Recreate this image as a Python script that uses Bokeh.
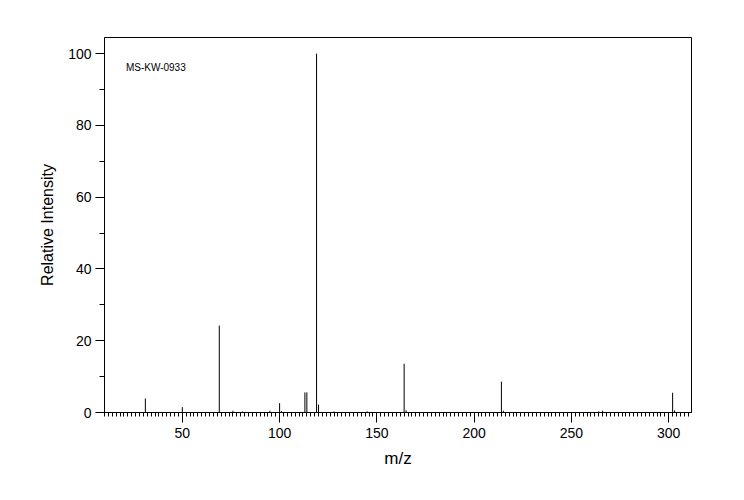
from bokeh.plotting import figure
from bokeh.models import Range1d, SingleIntervalTicker, ColumnDataSource, Label
from bokeh.embed import file_html
from bokeh.resources import INLINE

mz = [31, 50, 69, 76, 81, 95, 100, 101, 113, 114, 119, 120, 128, 145,
      164, 165, 214, 215, 264, 266, 302, 303]
intensity = [3.9, 1.5, 24.2, 0.5, 0.3, 0.5, 2.6, 0.4, 5.6, 5.6, 100.0, 2.2, 0.3, 0.3,
             13.6, 0.6, 8.6, 0.5, 0.3, 0.5, 5.5, 0.6]
base = [0.0] * len(mz)
spectrum_id = "MS-KW-0933"

FONT = "Liberation Sans"

src = ColumnDataSource(dict(mz=mz, base=base, inten=intensity))

p = figure(width=728, height=484, output_backend="svg", toolbar_location=None,
           x_range=Range1d(10, 311.7), y_range=Range1d(0, 104.5),
           min_border_left=104, min_border_right=37, min_border_top=37, min_border_bottom=72,
           background_fill_color="white", border_fill_color="white")

p.segment(x0="mz", y0="base", x1="mz", y1="inten", source=src, line_color="black", line_width=1)

p.xgrid.visible = False
p.ygrid.visible = False
p.outline_line_color = "black"
p.outline_line_width = 1

xa = p.xaxis[0]
xa.ticker = SingleIntervalTicker(interval=50, num_minor_ticks=25)
xa.axis_label = "m/z"
xa.axis_label_text_font = FONT
xa.axis_label_text_font_size = "17px"
xa.axis_label_text_font_style = "normal"
xa.axis_label_standoff = 8
xa.major_label_text_font = FONT
xa.major_label_text_font_size = "14px"
xa.major_label_standoff = 5
xa.major_tick_out = 10
xa.major_tick_in = 0
xa.minor_tick_out = 4
xa.minor_tick_in = 0
xa.axis_line_color = "black"
xa.major_tick_line_color = "black"
xa.minor_tick_line_color = "black"
xa.major_label_text_color = "black"
xa.axis_label_text_color = "black"

ya = p.yaxis[0]
ya.ticker = SingleIntervalTicker(interval=20, num_minor_ticks=2)
ya.axis_label = "Relative Intensity"
ya.axis_label_text_font = FONT
ya.axis_label_text_font_size = "16px"
ya.axis_label_text_font_style = "normal"
ya.axis_label_standoff = 9
ya.major_label_text_font = FONT
ya.major_label_text_font_size = "14px"
ya.major_label_standoff = 4
ya.major_tick_out = 9
ya.major_tick_in = 0
ya.minor_tick_out = 5
ya.minor_tick_in = 0
ya.axis_line_color = "black"
ya.major_tick_line_color = "black"
ya.minor_tick_line_color = "black"
ya.major_label_text_color = "black"
ya.axis_label_text_color = "black"

p.add_layout(Label(x=21, y=96.2, text=spectrum_id, text_font=FONT, text_font_size="10px",
                   text_baseline="middle", text_color="black"))

open("out.html", "w").write(file_html(p, INLINE))
